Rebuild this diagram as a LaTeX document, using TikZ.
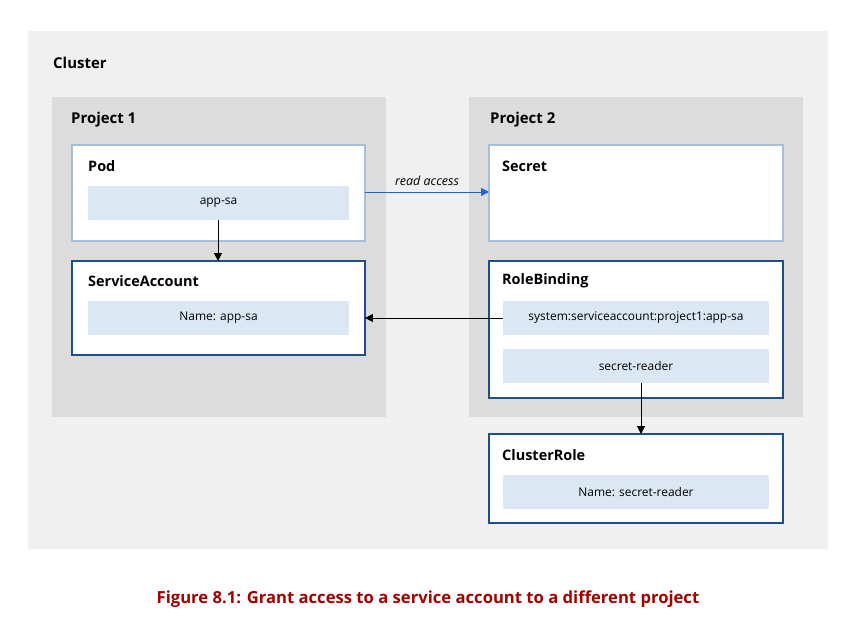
\documentclass[tikz,border=0pt]{standalone}
\usepackage{fontspec}
\setmainfont{Open Sans}
\usetikzlibrary{arrows.meta,positioning}
\definecolor{clusterbg}{HTML}{F0F0F0}
\definecolor{projbg}{HTML}{DCDCDC}
\definecolor{lightedge}{HTML}{A4BEDD}
\definecolor{darkedge}{HTML}{1F4E8C}
\definecolor{innerfill}{HTML}{DCE7F4}
\definecolor{readblue}{HTML}{1F66C8}
\definecolor{capred}{HTML}{A30000}
\tikzset{
  area/.style={anchor=north west, inner sep=0pt, outer sep=0pt},
  lightbox/.style={area, fill=white, draw=lightedge, line width=1.1pt},
  darkbox/.style={area, fill=white, draw=darkedge, line width=1.3pt},
  inner/.style={area, fill=innerfill, font=\fontsize{12}{14}\selectfont},
  title/.style={anchor=west, inner sep=0pt, font=\fontsize{15}{17}\selectfont\bfseries},
  subtitle/.style={anchor=west, inner sep=0pt, font=\fontsize{14.5}{16}\selectfont\bfseries},
  conn/.style={-{Triangle[length=8pt,width=8pt]}, line width=1pt},
}
\begin{document}
\begin{tikzpicture}[x=1bp,y=-1bp]
\useasboundingbox (0,0) rectangle (859,624);
\fill[white] (0,0) rectangle (859,624);
% cluster
\node[area, fill=clusterbg, minimum width=800bp, minimum height=518bp] (cluster) at (28,31) {};
\node[title] (clusterlbl) at (53,63) {Cluster};
% projects
\node[area, fill=projbg, minimum width=334bp, minimum height=320bp] (p1) at (52,97) {};
\node[title] (p1lbl) at (71,119.5) {Project 1};
\node[area, fill=projbg, minimum width=334bp, minimum height=320bp] (p2) at (469,97) {};
\node[title] (p2lbl) at (490,119.5) {Project 2};
% Pod
\node[lightbox, minimum width=293bp, minimum height=96bp] (pod) at (72,145) {};
\node[subtitle] (podlbl) at (88,166) {Pod};
\node[inner, minimum width=261bp, minimum height=34bp] (podsa) at (88,186) {app-sa};
% ServiceAccount
\node[darkbox, minimum width=293bp, minimum height=94bp] (sa) at (72,261) {};
\node[subtitle] (salbl) at (88,281) {ServiceAccount};
\node[inner, minimum width=261bp, minimum height=34bp] (saname) at (88,301) {Name: app-sa};
% Secret
\node[lightbox, minimum width=294bp, minimum height=96bp] (secret) at (489,145) {};
\node[subtitle] (secretlbl) at (502,166) {Secret};
% RoleBinding
\node[darkbox, minimum width=294bp, minimum height=137bp] (rb) at (489,261) {};
\node[subtitle] (rblbl) at (502,281) {RoleBinding};
\node[inner, minimum width=266bp, minimum height=34bp] (rbsub) at (503,301) {system:serviceaccount:project1:app-sa};
\node[inner, minimum width=266bp, minimum height=34bp] (rbrole) at (503,349) {secret-reader};
% ClusterRole
\node[darkbox, minimum width=294bp, minimum height=89bp] (cr) at (489,434) {};
\node[subtitle] (crlbl) at (502,455) {ClusterRole};
\node[inner, minimum width=266bp, minimum height=34bp] (crname) at (503,475) {Name: secret-reader};
% connectors
\draw[conn, readblue] (pod.east |- 0,192) -- node[above=3pt, text=black, font=\fontsize{12.5}{14}\selectfont\itshape] (readlbl) {read access} (secret.west |- 0,192);
\draw[conn] (podsa.south -| 218,0) -- (sa.north -| 218,0);
\draw[conn] (rbsub.west) -- (sa.east |- rbsub.west);
\draw[conn] (rbrole.south -| 641,0) -- (cr.north -| 641,0);
% caption
\node[font=\fontsize{16.7}{19}\selectfont\bfseries, text=capred] (caption) at (428,599) {Figure 8.1: Grant access to a service account to a different project};
\end{tikzpicture}
\end{document}
